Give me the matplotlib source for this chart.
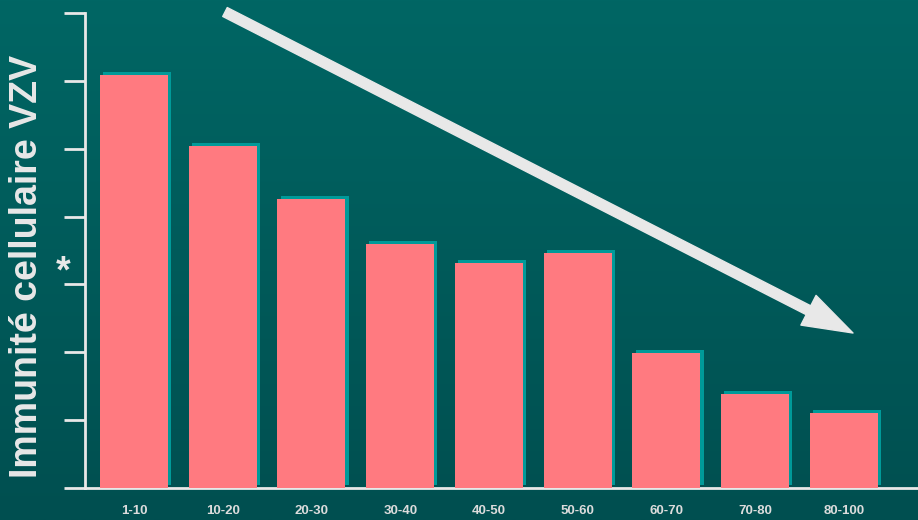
import numpy as np
import matplotlib
matplotlib.use('Agg')
import matplotlib.pyplot as plt
import matplotlib.patheffects as pe
from matplotlib.colors import LinearSegmentedColormap

# Données
tranches = ['1-10', '10-20', '20-30', '30-40', '40-50', '50-60', '60-70', '70-80', '80-100']
immunite = [6.08, 5.04, 4.26, 3.59, 3.31, 3.46, 1.99, 1.38, 1.10]

fond_haut = '#006664'
fond_bas = '#004f50'
rose = '#ff7a80'
ombre = '#009a99'
clair = '#e8e8e8'

fig = plt.figure(figsize=(9.18, 5.2), dpi=100)

# Fond en dégradé
bg = fig.add_axes([0, 0, 1, 1], zorder=0)
cmap = LinearSegmentedColormap.from_list('fond', [fond_haut, fond_bas])
bg.imshow(np.linspace(0, 1, 256).reshape(-1, 1), aspect='auto', cmap=cmap,
          extent=[0, 1, 0, 1])
bg.axis('off')

ax = fig.add_axes([85 / 918, 1 - 488 / 520, 1 - 85 / 918, (488 - 13) / 520], zorder=1)
ax.patch.set_alpha(0)

x = np.arange(len(tranches))
bars = ax.bar(x, immunite, width=0.766, color=rose, zorder=3)
for b in bars:
    b.set_path_effects([pe.SimplePatchShadow(offset=(2.2, 2.2), shadow_rgbFace=ombre, alpha=1),
                        pe.Normal()])

ax.set_xlim(-0.552, 8.834)
ax.set_ylim(0, 7)
ax.set_yticks(range(8))
ax.set_yticklabels([])
ax.set_xticks(x)
ax.set_xticklabels(tranches, fontsize=9.5, fontweight='bold', color='#dcdcdc',
                   family='Liberation Sans')
ax.tick_params(axis='x', length=0, pad=12)
ax.tick_params(axis='y', length=15, width=2, color=clair)

for s in ['top', 'right']:
    ax.spines[s].set_visible(False)
for s in ['left', 'bottom']:
    ax.spines[s].set_color(clair)
    ax.spines[s].set_linewidth(2)

# Titre de l'axe vertical
fig.text(27 / 918, 1 - 266 / 520, 'Immunité cellulaire VZV', rotation=90,
         ha='center', va='center', fontsize=27, fontweight='bold', color=clair,
         family='Liberation Sans')
fig.text(63 / 918, 1 - 272 / 520, '*', ha='center', va='center', fontsize=27,
         fontweight='bold', color=clair, family='Liberation Sans')

# Flèche de tendance
fig.add_artist(matplotlib.patches.FancyArrowPatch(
    (225 / 918, 1 - 12 / 520), (853 / 918, 1 - 333 / 520),
    transform=fig.transFigure, arrowstyle='simple,tail_width=0.72,head_width=2.4,head_length=3.6',
    mutation_scale=10, color=clair, shrinkA=0, shrinkB=0, zorder=5))

plt.savefig('out.png', dpi=100)
plt.close()
